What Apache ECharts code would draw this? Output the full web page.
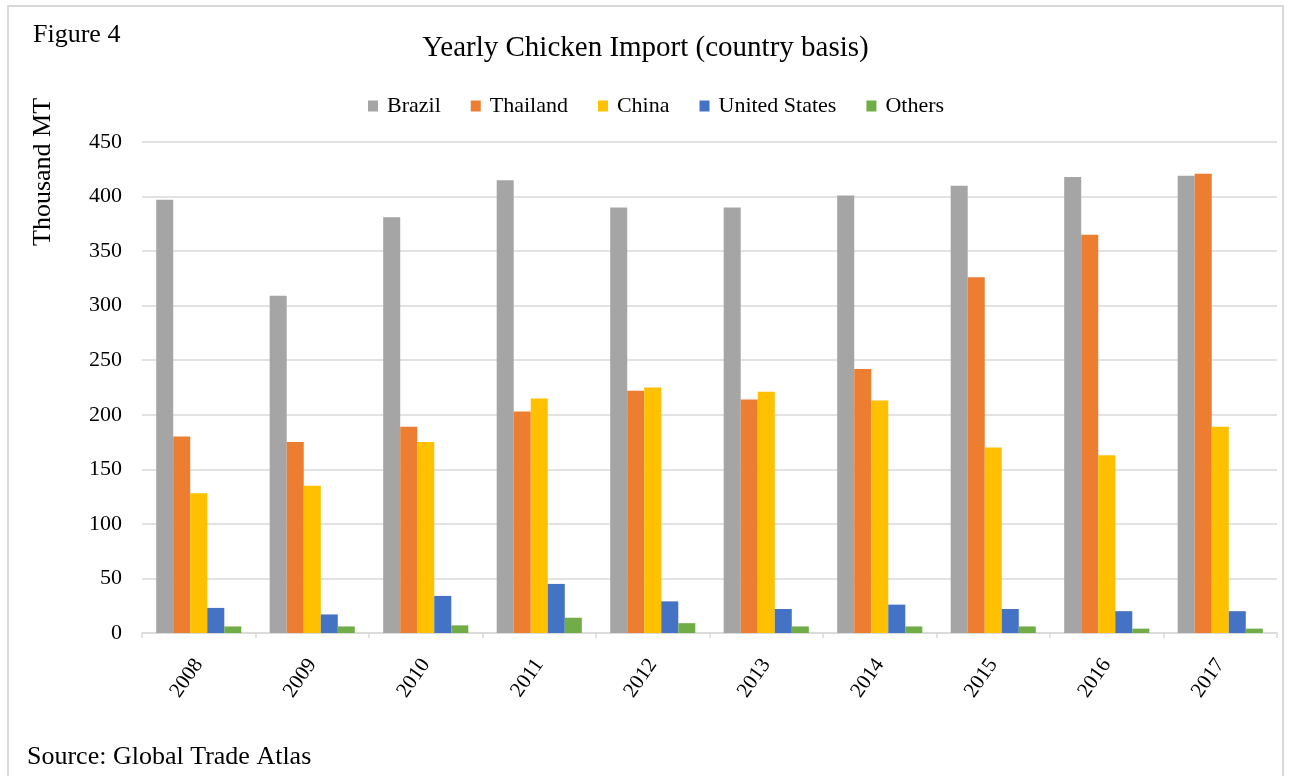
<!DOCTYPE html>
<html><head><meta charset="utf-8">
<script src="https://cdn.jsdelivr.net/npm/echarts@6/dist/echarts.min.js"></script>
<style>html,body{margin:0;padding:0;background:#fff;}#c{width:1291px;height:776px;}</style>
</head><body><div id="c"></div>
<script>
const years = ['2008','2009','2010','2011','2012','2013','2014','2015','2016','2017'];
const brazil   = [397, 309, 381, 415, 390, 390, 401, 410, 418, 419];
const thailand = [180, 175, 189, 203, 222, 214, 242, 326, 365, 421];
const china    = [128, 135, 175, 215, 225, 221, 213, 170, 163, 189];
const us       = [23, 17, 34, 45, 29, 22, 26, 22, 20, 20];
const others   = [6, 6, 7, 14, 9, 6, 6, 6, 4, 4];
const seriesNames = ['Brazil','Thailand','China','United States','Others'];
const seriesData = [brazil, thailand, china, us, others];
const colors = ['#A5A5A5','#ED7D31','#FFC000','#4472C4','#70AD47'];
const serif = '"Liberation Serif","DejaVu Serif",serif';

const chart = echarts.init(document.getElementById('c'));
chart.setOption({
  animation: false,
  backgroundColor: '#fff',
  color: colors,
  title: {
    text: 'Yearly Chicken Import (country basis)',
    left: 'center', top: 29,
    textStyle: {fontFamily: serif, fontSize: 29, fontWeight: 'normal', color: '#000'}
  },
  legend: {
    top: 90, left: 363,
    itemWidth: 10, itemHeight: 11, itemGap: 30,
    icon: 'rect',
    textStyle: {fontFamily: serif, fontSize: 22, color: '#000', padding: [0,0,0,4]},
    data: seriesNames
  },
  graphic: [
    {type: 'rect', shape: {x: 8, y: 6, width: 1275, height: 800}, style: {fill: 'none', stroke: '#d9d9d9', lineWidth: 2}, silent: true},
    {type: 'text', left: 33, top: 22, style: {text: 'Figure 4', font: '26px ' + serif, fill: '#000'}},
    {type: 'text', x: 30, y: 246, rotation: Math.PI/2, style: {text: 'Thousand MT', font: '26px ' + serif, fill: '#000'}},
    {type: 'text', left: 27, top: 744, style: {text: 'Source: Global Trade Atlas', font: '26px ' + serif, fill: '#000'}}
  ],
  grid: {left: 142, right: 14, top: 142, bottom: 143, containLabel: false},
  xAxis: {
    type: 'category', data: years,
    axisLine: {lineStyle: {color: '#d9d9d9', width: 1.5}},
    axisTick: {show: true, length: 5, lineStyle: {color: '#d9d9d9', width: 1.5}},
    axisLabel: {rotate: 55, fontFamily: serif, fontSize: 21, color: '#000', margin: 28}
  },
  yAxis: {
    type: 'value', min: 0, max: 450, interval: 50,
    axisLine: {show: false}, axisTick: {show: false},
    splitLine: {lineStyle: {color: '#d9d9d9', width: 1.5}},
    axisLabel: {fontFamily: serif, fontSize: 22, color: '#000', margin: 20}
  },
  series: seriesNames.map((n, i) => ({
    name: n, type: 'bar', data: seriesData[i],
    barGap: '0%', barCategoryGap: '25%',
    itemStyle: {color: colors[i]}
  }))
});
</script></body></html>
